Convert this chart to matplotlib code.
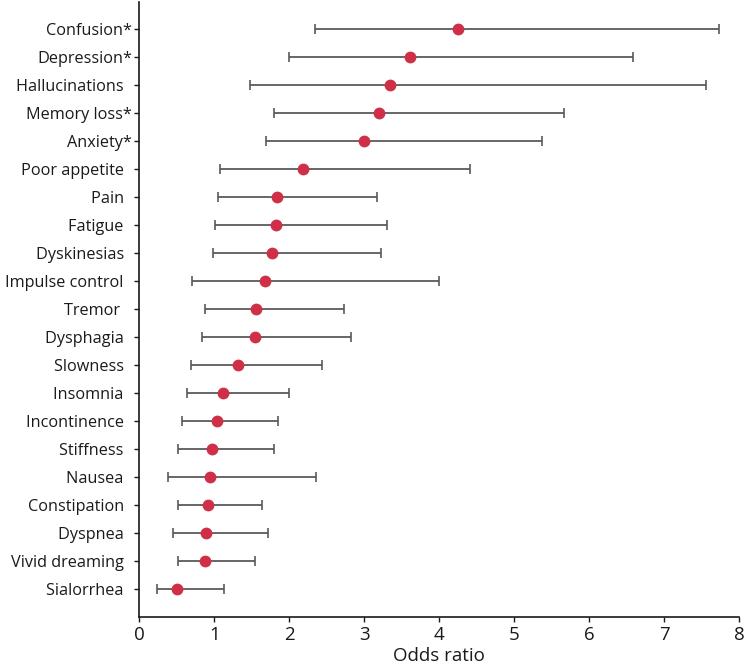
import matplotlib
matplotlib.use('Agg')
import matplotlib.pyplot as plt
import numpy as np

plt.rcParams['font.family'] = ['Open Sans', 'DejaVu Sans']

# trailing spaces keep the plain labels left of the starred ones, as in the source
symptoms = [
    'Confusion*', 'Depression*', 'Hallucinations  ', 'Memory loss*', 'Anxiety*',
    'Poor appetite  ', 'Pain  ', 'Fatigue  ', 'Dyskinesias  ', 'Impulse control  ',
    'Tremor   ', 'Dysphagia  ', 'Slowness  ', 'Insomnia  ', 'Incontinence  ',
    'Stiffness  ', 'Nausea  ', 'Constipation  ', 'Dyspnea  ', 'Vivid dreaming  ',
    'Sialorrhea  ',
]
odds_ratio = [4.25, 3.61, 3.34, 3.19, 3.00, 2.18, 1.83, 1.82, 1.77, 1.68,
              1.56, 1.54, 1.31, 1.12, 1.04, 0.97, 0.94, 0.92, 0.89, 0.88, 0.50]
ci_low = [2.34, 1.99, 1.48, 1.80, 1.69, 1.08, 1.05, 1.01, 0.98, 0.70,
          0.88, 0.83, 0.69, 0.63, 0.57, 0.51, 0.38, 0.51, 0.45, 0.51, 0.23]
ci_high = [7.73, 6.58, 7.55, 5.66, 5.37, 4.41, 3.17, 3.30, 3.22, 4.00,
           2.73, 2.82, 2.44, 1.99, 1.85, 1.79, 2.35, 1.64, 1.71, 1.54, 1.13]

odds_ratio = np.array(odds_ratio)
err = np.vstack([odds_ratio - np.array(ci_low), np.array(ci_high) - odds_ratio])
ypos = np.arange(len(symptoms))

fig = plt.figure(figsize=(7.45, 6.66), dpi=100)
ax = fig.add_axes([0.187, 0.074, 0.8054, 0.9234])

ax.errorbar(odds_ratio, ypos, xerr=err, fmt='none', ecolor='#5a5a5a',
            elinewidth=1.3, capsize=3.5, capthick=1.2, zorder=2)
ax.plot(odds_ratio, ypos, 'o', color='#cf3048', markersize=8.5,
        markeredgewidth=0, zorder=3)

ax.set_yticks(ypos)
ax.set_yticklabels(symptoms, fontsize=11.7, color='#1a1a1a')
ax.set_ylim(len(symptoms) - 0.02, -0.99)
ax.set_xlim(0, 8)
ax.set_xticks(range(0, 9))
ax.tick_params(axis='x', labelsize=13.5, length=3.5, width=1, pad=3.5,
               colors='#1a1a1a')
ax.tick_params(axis='y', length=3.5, width=1, pad=1.5, colors='#1a1a1a')
ax.set_xlabel('Odds ratio', fontsize=13.5, color='#1a1a1a', labelpad=2)

for side in ['top', 'right']:
    ax.spines[side].set_visible(False)
for side in ['left', 'bottom']:
    ax.spines[side].set_linewidth(1.2)
    ax.spines[side].set_color('#1a1a1a')

fig.savefig('out.png', dpi=100)
